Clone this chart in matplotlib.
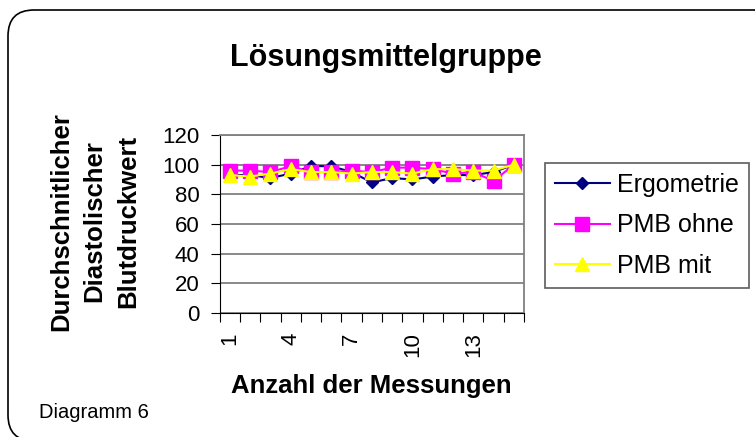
import numpy as np
import matplotlib.pyplot as plt
from matplotlib.patches import FancyBboxPatch

plt.rcParams['font.family'] = ['Liberation Sans', 'DejaVu Sans']

messungen = list(range(1, 16))
ergometrie = [93, 93, 91, 94, 99, 99, 95, 88, 91, 90, 92, 93, 93, 95, 100]
pmb_ohne = [96, 96, 95, 99, 95, 95, 96, 95, 98, 98, 97, 94, 95, 89, 100]
pmb_mit = [93, 92, 94, 97, 95, 95, 94, 95, 95, 94, 97, 97, 96, 96, 100]
tick_labels = ['1', '4', '7', '10', '13']

fig = plt.figure(figsize=(7.55, 4.37), dpi=100)

# rounded outer frame (right and bottom edges run just off the picture)
frame = FancyBboxPatch((0.08, -0.04), 7.72, 4.31,
                       boxstyle="round,pad=0,rounding_size=0.26",
                       transform=fig.dpi_scale_trans, fill=False,
                       edgecolor='black', linewidth=1.2)
fig.patches.append(frame)

ax = fig.add_axes([0.291, 0.284, 0.403, 0.407])
x = np.arange(len(messungen))
ax.plot(x, ergometrie, color='#000080', marker='D', markersize=6, lw=1.5, label='Ergometrie')
ax.plot(x, pmb_ohne, color='#FF00FF', marker='s', markersize=9.5, lw=1.5, label='PMB ohne')
ax.plot(x, pmb_mit, color='#FFFF00', marker='^', markersize=10.5, lw=1.5, label='PMB mit')

ax.set_xlim(-0.5, len(messungen) - 0.5)
ax.set_ylim(0, 120)
ax.set_yticks(range(0, 121, 20))
ax.yaxis.grid(True, color='#808080', lw=1.3)
ax.set_axisbelow(True)
ax.set_xticks(np.arange(-0.5, len(messungen), 1))
ax.set_xticklabels([])
ax.set_xticks(x[::3], minor=True)
ax.set_xticklabels(tick_labels, minor=True, rotation=90)
ax.tick_params(axis='x', which='minor', length=0, labelsize=16, pad=14)
ax.tick_params(axis='x', which='major', length=6.5, direction='out')
ax.tick_params(axis='y', labelsize=16, length=6.5, pad=8)
for s in ['top', 'right']:
    ax.spines[s].set_color('#808080')
    ax.spines[s].set_linewidth(1.3)

fig.text(0.511, 0.867, 'Lösungsmittelgruppe', fontsize=22, fontweight='bold', ha='center', va='center')
fig.text(0.125, 0.494, 'Durchschnitlicher\nDiastolischer\nBlutdruckwert', fontsize=18.5,
         fontweight='bold', rotation=90, ha='center', va='center', linespacing=1.5)
fig.text(0.492, 0.117, 'Anzahl der Messungen', fontsize=18.5, fontweight='bold', ha='center', va='center')
fig.text(0.052, 0.057, 'Diagramm 6', fontsize=14.5, ha='left', va='center')

leg = fig.legend(loc='center', bbox_to_anchor=(0.857, 0.484), fontsize=18, frameon=True,
                 fancybox=False, edgecolor='#333333', handlelength=2.2, handletextpad=0.3,
                 labelspacing=0.65, borderpad=0.4, borderaxespad=0)
leg.get_frame().set_linewidth(1.2)

fig.savefig('out.png', dpi=100)
